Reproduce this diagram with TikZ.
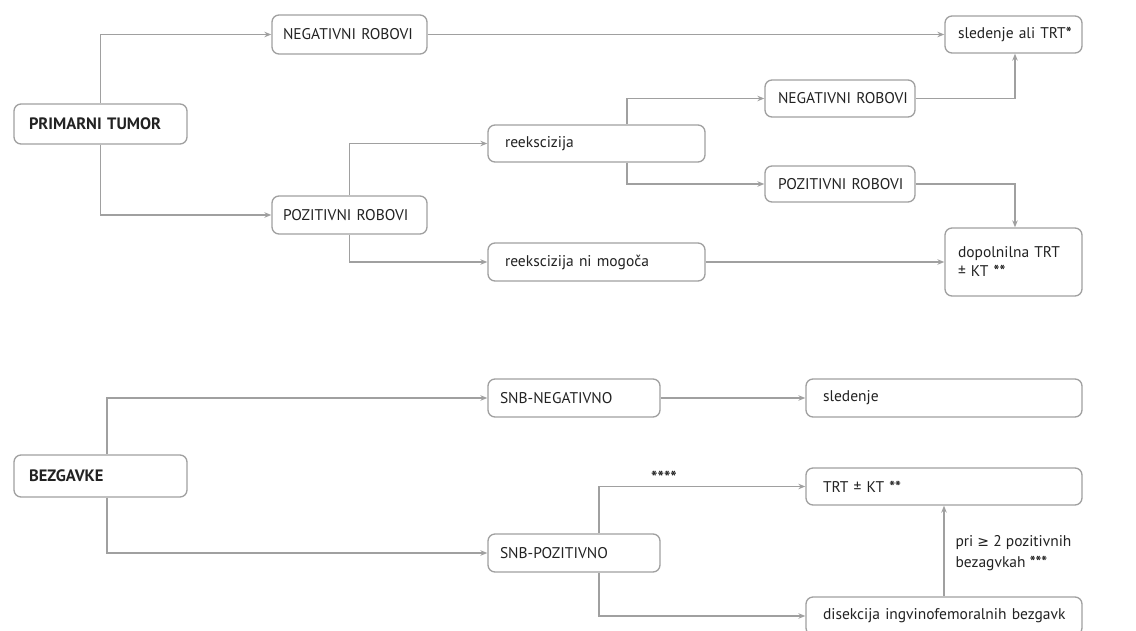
\documentclass[tikz,border=0pt]{standalone}
\usepackage{fontspec}
\setmainfont{PT Sans}
\newfontfamily\symfont{DejaVu Sans}
\usetikzlibrary{arrows.meta}
\definecolor{linegray}{HTML}{A0A0A0}
\definecolor{textc}{HTML}{222222}
\newcommand{\bst}[1]{\textbf{#1}}
\begin{document}
\begin{tikzpicture}[x=1pt,y=-1pt,
  box/.style={draw=linegray, line width=1.3pt, rounded corners=7pt, fill=white,
    align=left, text=textc, font=\fontsize{15.5}{19}\selectfont, inner ysep=2pt},
  hd/.style={font=\fontsize{16.5}{19}\selectfont\bfseries},
  arr/.style={draw=linegray, line width=1.3pt, -{Stealth[length=7pt,width=5.5pt]}},
  lab/.style={text=textc, font=\fontsize{15.5}{21}\selectfont, align=left}
]
\useasboundingbox (0,0) rectangle (1136,630);
% top part
\node[box, hd, inner xsep=15pt, text width=143pt, minimum height=40pt] (pt) at (100.5,124) {\mbox{PRIMARNI TUMOR}};
\node[box, inner xsep=11pt, text width=133pt, minimum height=39pt] (neg1) at (349.5,34.5) {\mbox{NEGATIVNI ROBOVI}};
\node[box, inner xsep=11pt, text width=133pt, minimum height=38pt] (poz1) at (349.5,215) {\mbox{POZITIVNI ROBOVI}};
\node[box, inner xsep=17pt, text width=183pt, minimum height=37pt] (reeks) at (596.5,143.5) {\mbox{reekscizija}};
\node[box, inner xsep=17pt, text width=183pt, minimum height=38pt] (rnm) at (596.5,262) {\mbox{reekscizija ni mogoča}};
\node[box, inner xsep=13pt, text width=124pt, minimum height=37pt] (neg2) at (840,98.5) {\mbox{NEGATIVNI ROBOVI}};
\node[box, inner xsep=13pt, text width=124pt, minimum height=36pt] (poz2) at (840,184) {\mbox{POZITIVNI ROBOVI}};
\node[box, inner xsep=13pt, text width=111pt, minimum height=37pt] (sled) at (1013.5,34.5) {\mbox{sledenje ali TRT\bst{*}}};
\node[box, inner xsep=13pt, text width=111pt, minimum height=68pt] (dop) at (1013.5,262) {\mbox{dopolnilna TRT}\\\mbox{± KT \bst{**}}};
% bottom part
\node[box, hd, inner xsep=15pt, text width=143pt, minimum height=42pt] (bez) at (100.5,476) {\mbox{BEZGAVKE}};
\node[box, inner xsep=12pt, text width=148pt, minimum height=38pt] (snbn) at (574,398) {\mbox{SNB-NEGATIVNO}};
\node[box, inner xsep=12pt, text width=148pt, minimum height=38pt] (snbp) at (574,553) {\mbox{SNB-POZITIVNO}};
\node[box, inner xsep=17pt, text width=242pt, minimum height=38pt] (sl) at (944,398) {\mbox{sledenje}};
\node[box, inner xsep=17pt, text width=242pt, minimum height=37pt] (trt) at (944,486.5) {\mbox{TRT ± KT \bst{**}}};
\node[box, inner xsep=17pt, text width=242pt, minimum height=38pt] (dis) at (944,616) {\mbox{disekcija ingvinofemoralnih bezgavk}};
% connectors top
\draw[arr] (pt.north) |- (neg1.west);
\draw[arr] (pt.south) |- (poz1.west);
\draw[arr] (poz1.north) |- (reeks.west);
\draw[arr] (poz1.south) |- (rnm.west);
\draw[arr] ([xshift=30.5pt]reeks.north) |- (neg2.west);
\draw[arr] ([xshift=30.5pt]reeks.south) |- (poz2.west);
\draw[arr] (neg1.east) -- (sled.west);
\draw[arr] (neg2.east) -| ([xshift=1.5pt]sled.south);
\draw[arr] (poz2.east) -| ([xshift=1.5pt]dop.north);
\draw[arr] (rnm.east) -- (dop.west);
% connectors bottom
\draw[arr] ([xshift=6.5pt]bez.north) |- (snbn.west);
\draw[arr] ([xshift=6.5pt]bez.south) |- (snbp.west);
\draw[arr] (snbn.east) -- (sl.west);
\draw[arr] ([xshift=25pt]snbp.north) |- (trt.west);
\draw[arr] ([xshift=25pt]snbp.south) |- (dis.west);
\draw[arr] (dis.north) -- (trt.south);
% labels
\node[lab, font=\fontsize{17}{21}\selectfont\bfseries] (stars) at (664,477) {****};
\node[lab, anchor=west] (pri) at (952,553) {pri {\symfont\fontsize{14}{21}\selectfont ≥} 2 pozitivnih\\bezagvkah \bst{***}};
\end{tikzpicture}
\end{document}
